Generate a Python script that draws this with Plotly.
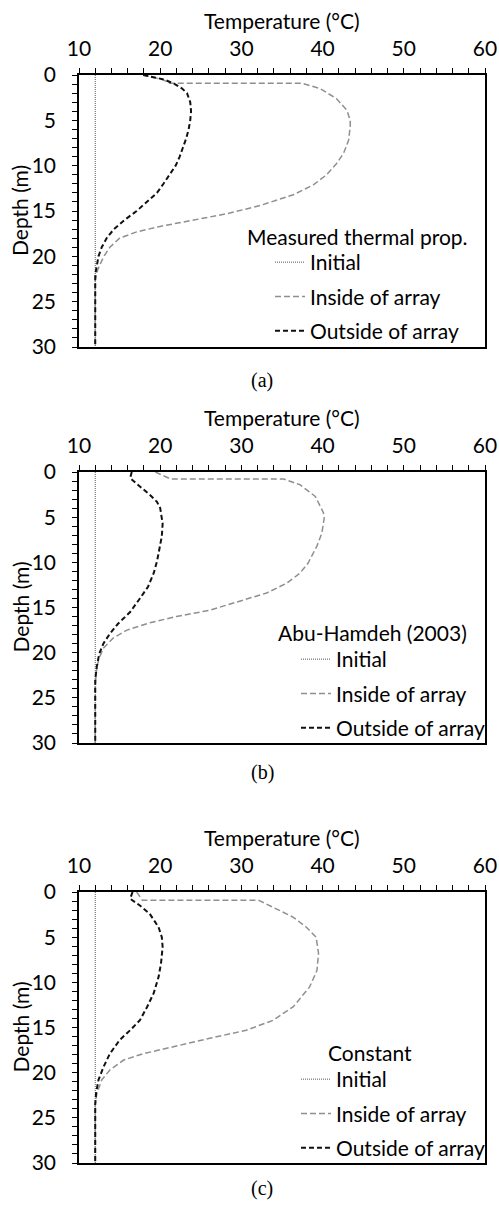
import plotly.graph_objects as go

W, H = 499, 1209

# ---------------- data ----------------
initial_depth = [0, 30]
initial_temp = [12.0, 12.0]

# (a) Measured thermal prop.
a_in_depth = [0, 0.5, 0.9, 0.9, 1.5, 2.6, 3.9, 5.0, 5.7, 7.2, 8.6, 9.8, 11.0, 12.1, 13.2, 14.4, 15.3, 16.0, 16.7, 17.3, 18.0, 19.0, 20.1, 21.5, 22.6, 24, 30]
a_in_temp = [17.9, 20.3, 21.2, 37.4, 39.7, 41.7, 43.0, 43.4, 43.4, 43.2, 42.6, 41.7, 40.5, 38.9, 36.4, 32.3, 28.2, 24.1, 20.0, 17.1, 15.0, 13.8, 13.0, 12.3, 12.0, 12.0, 12.0]
a_out_depth = [0, 0.5, 1, 1.5, 2, 3, 4, 5, 6, 7, 8, 9, 10, 11, 12, 13, 14, 15, 16, 17, 18, 19, 20, 21, 22, 24, 30]
a_out_temp = [17.9, 20.5, 21.8, 22.7, 23.3, 23.7, 23.8, 23.7, 23.5, 23.2, 22.8, 22.4, 21.9, 21.2, 20.4, 19.6, 18.4, 17.1, 15.6, 14.3, 13.4, 12.8, 12.4, 12.2, 12.0, 12.0, 12.0]

# (b) Abu-Hamdeh (2003)
b_in_depth = [0, 0.78, 0.78, 1.4, 2.7, 4.5, 5.1, 6.8, 8.2, 10.1, 11.2, 12.3, 13.4, 14.3, 15.3, 16.0, 16.7, 17.5, 18.4, 19.5, 20.8, 22.3, 24, 30]
b_in_temp = [19.4, 21.3, 35.2, 37.2, 39.1, 40.1, 40.2, 39.9, 39.3, 38.2, 37.2, 35.6, 33.1, 29.8, 26.1, 22.0, 18.7, 15.9, 14.2, 13.0, 12.4, 12.1, 12.0, 12.0]
b_out_depth = [0, 0.67, 1.6, 2.5, 3.3, 4.0, 5.7, 7.1, 9.0, 9.9, 11.2, 12.7, 14.0, 15.5, 16.8, 17.9, 19.0, 20.1, 21.5, 23.0, 30]
b_out_temp = [16.5, 16.3, 17.5, 18.7, 19.6, 20.0, 20.3, 20.2, 19.8, 19.6, 19.2, 18.5, 17.5, 16.3, 14.8, 13.8, 13.0, 12.5, 12.2, 12.0, 12.0]

# (c) Constant
c_in_depth = [0, 0.9, 0.9, 1.5, 2.8, 3.9, 5.0, 6.8, 8.7, 10.5, 11.2, 12.7, 14.2, 15.3, 16.2, 17.1, 17.9, 18.6, 19.7, 20.8, 22.3, 23.5, 30]
c_in_temp = [17.1, 17.8, 32.1, 33.5, 36.4, 38.0, 39.2, 39.5, 39.3, 38.4, 37.8, 36.4, 33.9, 30.6, 26.1, 21.6, 17.9, 15.5, 13.8, 12.8, 12.2, 12.0, 12.0]
c_out_depth = [0, 0.74, 1.5, 2.4, 3.9, 5.0, 6.1, 7.9, 9.4, 11.2, 12.7, 14.2, 15.3, 16.4, 17.9, 19.4, 20.8, 22.3, 23.5, 30]
c_out_temp = [16.6, 16.3, 17.5, 18.7, 19.8, 20.2, 20.3, 20.1, 19.8, 19.2, 18.4, 17.5, 16.3, 15.0, 13.8, 13.0, 12.4, 12.1, 12.0, 12.0]

series_names = ["Initial", "Inside of array", "Outside of array"]
panel_titles = ["Measured thermal prop.", "Abu-Hamdeh (2003)", "Constant"]
captions = ["(a)", "(b)", "(c)"]
x_ticks = [10, 20, 30, 40, 50, 60]
y_ticks = [0, 5, 10, 15, 20, 25, 30]

panels = [
    (a_in_depth, a_in_temp, a_out_depth, a_out_temp),
    (b_in_depth, b_in_temp, b_out_depth, b_out_temp),
    (c_in_depth, c_in_temp, c_out_depth, c_out_temp),
]

# ---------------- layout geometry (pixels) ----------------
px_left, px_right = 79, 485
panel_top = [75, 472, 892]
panel_bot = [347, 743, 1163]
legend_text_x = [310, 336, 336]
legend_first_y = [263, 660, 1080]
legend_title_pos = [(357, 237), (372, 632), (370, 1052)]
caption_y = [381, 772, 1188]

FONT = "Lato"
FS = 21

def fx(p):
    return p / W

def fy(p):
    return 1 - p / H

fig = go.Figure()
layout = dict(
    width=W, height=H,
    margin=dict(l=0, r=0, t=0, b=0, pad=0, autoexpand=False),
    paper_bgcolor="white", plot_bgcolor="white",
    font=dict(family=FONT, size=FS, color="black"),
    annotations=[],
)

for i, (ind, intemp, outd, outtemp) in enumerate(panels):
    k = "" if i == 0 else str(i + 1)
    xa, ya = "x" + k, "y" + k
    leg = "legend" + k
    fig.add_trace(go.Scatter(x=initial_temp, y=initial_depth, mode="lines", name=series_names[0],
                             line=dict(color="#555555", width=1, dash="1px,1px"),
                             xaxis=xa, yaxis=ya, legend=leg, legendgroup=f"g{i}0"))
    fig.add_trace(go.Scatter(x=intemp, y=ind, mode="lines", name=series_names[1],
                             line=dict(color="#8f8f8f", width=1.5, dash="6px,3px"),
                             xaxis=xa, yaxis=ya, legend=leg, legendgroup=f"g{i}1"))
    fig.add_trace(go.Scatter(x=outtemp, y=outd, mode="lines", name=series_names[2],
                             line=dict(color="#111111", width=2, dash="5px,3px"),
                             xaxis=xa, yaxis=ya, legend=leg, legendgroup=f"g{i}2"))

    layout["xaxis" + k] = dict(
        domain=[fx(px_left), fx(px_right)], anchor=ya, side="top", automargin=False,
        range=[10, 60], tickvals=x_ticks, ticks="outside", ticklen=5, tickwidth=1,
        tickcolor="black", minor=dict(dtick=2, ticks="outside", ticklen=5, tickcolor="black"),
        showline=True, linecolor="black", linewidth=1.5, mirror=True,
        showgrid=False, zeroline=False, ticklabelstandoff=4,
        tickfont=dict(family=FONT, size=FS),
    )
    layout["yaxis" + k] = dict(
        domain=[fy(panel_bot[i]), fy(panel_top[i])], anchor=xa, automargin=False,
        range=[30, 0], tickvals=y_ticks, ticks="outside", ticklen=5, tickwidth=1,
        tickcolor="black", minor=dict(dtick=1, ticks="outside", ticklen=5, tickcolor="black"),
        showline=True, linecolor="black", linewidth=1.5, mirror=True,
        showgrid=False, zeroline=False, ticklabelstandoff=12,
        tickfont=dict(family=FONT, size=FS),
    )
    layout[leg] = dict(
        x=fx(legend_text_x[i] - 40), xanchor="left",
        y=fy(legend_first_y[i] - 21), yanchor="top",
        bgcolor="rgba(0,0,0,0)", font=dict(family=FONT, size=FS),
        tracegroupgap=4, itemclick=False,
    )
    mid_x = (px_left + px_right) / 2
    layout["annotations"] += [
        dict(text="Temperature (°C)", x=fx(mid_x), y=fy(panel_top[i] - 55), xref="paper", yref="paper",
             showarrow=False, xanchor="center", yanchor="middle", font=dict(family=FONT, size=FS)),
        dict(text="Depth (m)", x=fx(20), y=fy((panel_top[i] + panel_bot[i]) / 2), xref="paper", yref="paper",
             showarrow=False, xanchor="center", yanchor="middle", textangle=-90, font=dict(family=FONT, size=FS)),
        dict(text=panel_titles[i], x=fx(legend_title_pos[i][0]), y=fy(legend_title_pos[i][1]),
             xref="paper", yref="paper", showarrow=False, xanchor="center", yanchor="middle",
             font=dict(family=FONT, size=FS)),
        dict(text=captions[i], x=fx(262), y=fy(caption_y[i]), xref="paper", yref="paper",
             showarrow=False, xanchor="center", yanchor="middle",
             font=dict(family="Liberation Serif", size=20)),
    ]

fig.update_layout(**layout)
fig.write_html("out.html", config={"displayModeBar": False},
               post_script="document.body.style.margin='0';document.body.style.overflow='hidden';")
